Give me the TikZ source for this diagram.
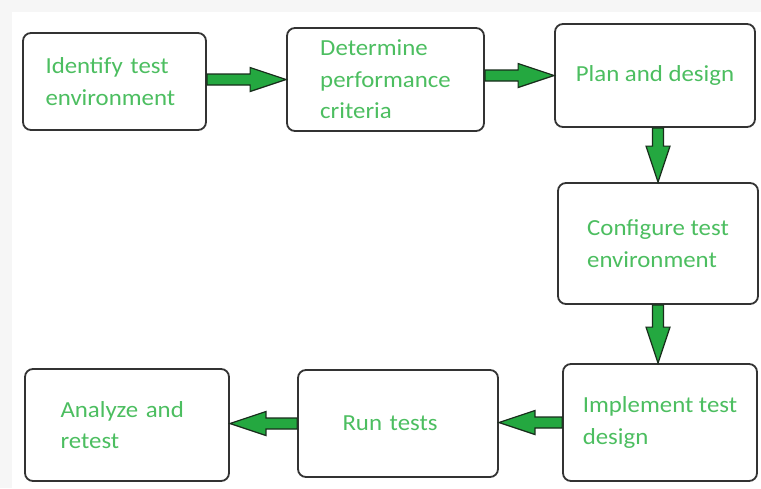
\documentclass[tikz,border=0pt]{standalone}
\usepackage{fontspec}
\setmainfont{Carlito}[FakeStretch=1.08]
\usetikzlibrary{calc}
\definecolor{txtgreen}{RGB}{76,190,96}
\definecolor{arrgreen}{RGB}{36,168,64}
\definecolor{arrline}{RGB}{25,45,28}
\tikzset{
  box/.style={draw=black!80, line width=1.8pt, rounded corners=8pt, fill=white,
    align=left, text=txtgreen, font=\fontsize{23}{31.5}\selectfont},
  fatarrow/.style={fill=arrgreen, draw=arrline, line width=1.2pt,
    to path={($(\tikztostart)!5.5pt!90:(\tikztotarget)$)
      -- ($($(\tikztotarget)!36pt!(\tikztostart)$)!5.5pt!90:(\tikztotarget)$)
      -- ($($(\tikztotarget)!36pt!(\tikztostart)$)!12pt!90:(\tikztotarget)$)
      -- (\tikztotarget)
      -- ($($(\tikztotarget)!36pt!(\tikztostart)$)!12pt!-90:(\tikztotarget)$)
      -- ($($(\tikztotarget)!36pt!(\tikztostart)$)!5.5pt!-90:(\tikztotarget)$)
      -- ($(\tikztostart)!5.5pt!-90:(\tikztotarget)$) -- cycle}}
}
\begin{document}
\begin{tikzpicture}[x=1pt,y=-1pt]
\useasboundingbox (0,0) rectangle (761,488);
% fond
\fill [gray!7] (0,0) rectangle (761,488);
\fill [white] (12,12) rectangle (761,488);
% boites
\node (ident) at (114.5,81.5) [box, minimum width=183pt, minimum height=97pt, text width=138pt] {Identify test\\environment};
\node (perf) at (385.5,79.5) [box, minimum width=197pt, minimum height=103pt] {Determine\\performance\\criteria};
\node (plan) at (655,75.5) [box, minimum width=200pt, minimum height=103pt] {Plan and design};
\node (conf) at (658,243.5) [box, minimum width=200pt, minimum height=121pt] {Configure test\\environment};
\node (impl) at (660,422.5) [box, minimum width=194pt, minimum height=117pt] {Implement test\\design};
\node (run) at (398,423.5) [box, minimum width=200pt, minimum height=107pt, text width=111pt] {Run tests};
\node (anal) at (127,425) [box, minimum width=204pt, minimum height=112pt, text width=133pt] {Analyze and\\retest};
% fleches
\draw [fatarrow] (perf.west -| ident.east) to (perf.west);
\draw [fatarrow] (plan.west -| perf.east) to (plan.west);
\draw [fatarrow] (conf.north |- plan.south) to (conf.north);
\draw [fatarrow] (conf.south) to (conf.south |- impl.north);
\draw [fatarrow] (impl.west) to (impl.west -| run.east);
\draw [fatarrow] (run.west) to (run.west -| anal.east);
\end{tikzpicture}
\end{document}
